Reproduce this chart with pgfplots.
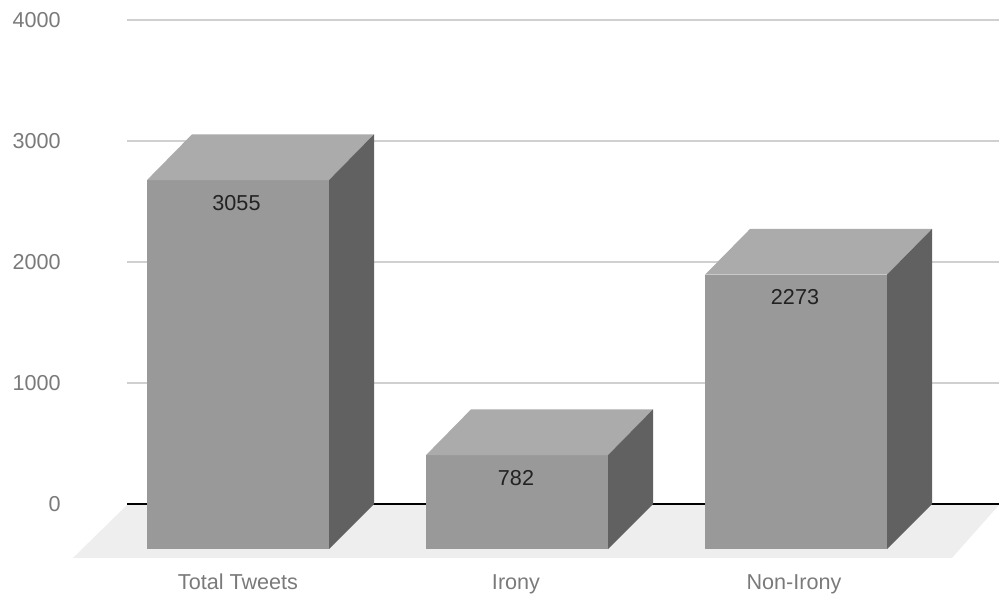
\documentclass[border=0pt]{standalone}
\usepackage{fontspec}
\setmainfont{Liberation Sans}
\usepackage{pgfplots}
\usepackage{pgfplotstable}
\pgfplotsset{compat=1.18}

\definecolor{frontface}{HTML}{999999}
\definecolor{topface}{HTML}{ABABAB}
\definecolor{sideface}{HTML}{616161}
\definecolor{floorgrey}{HTML}{EEEEEE}
\definecolor{gridgrey}{HTML}{D0D0D0}
\definecolor{ticktext}{HTML}{7A7A7A}
\definecolor{valuetext}{HTML}{222222}
\definecolor{baseline}{HTML}{444444}

% Outlines of the box faces: dx in x units, h as share of the value, off as fixed shift.
\pgfplotstableread[row sep=\\]{
dx h off\\
0 0 -372\\
182 0 -372\\
182 1 -378\\
0 1 -378\\
}\frontoutline
\pgfplotstableread[row sep=\\]{
dx h off\\
0 1 -378\\
182 1 -378\\
227 1 0\\
45 1 0\\
}\topoutline
\pgfplotstableread[row sep=\\]{
dx h off\\
182 0 -372\\
227 0 0\\
227 1 0\\
182 1 -378\\
}\sideoutline

\newcommand{\boxbar}[2]{%
  \addplot[fill=frontface,draw=none] table[x expr={#1+\thisrow{dx}},y expr={\thisrow{off}+\thisrow{h}*#2}] {\frontoutline} --cycle;
  \addplot[fill=topface,draw=none] table[x expr={#1+\thisrow{dx}},y expr={\thisrow{off}+\thisrow{h}*#2}] {\topoutline} --cycle;
  \addplot[fill=sideface,draw=none] table[x expr={#1+\thisrow{dx}},y expr={\thisrow{off}+\thisrow{h}*#2}] {\sideoutline} --cycle;
}

\begin{document}
\begin{tikzpicture}
\path[use as bounding box] (0,0) rectangle (749.25pt,446.25pt);
\begin{axis}[
  scale only axis,
  width=749.25pt,
  height=446.25pt,
  xmin=0,xmax=999,
  ymin=-752.07,ymax=4165.29,
  clip=false,
  axis line style={draw=none},
  tick style={draw=none},
  font=\fontsize{16.2pt}{19pt}\selectfont,
  ytick={0,1000,2000,3000,4000},
  xtick={238,516,794},
  xticklabels={Total Tweets,Irony,Non-Irony},
  /pgf/number format/assume math mode=true,
  /pgf/number format/1000 sep={},
  yticklabel style={anchor=east,xshift=45.75pt,inner sep=0pt,text=ticktext},
  xticklabel style={anchor=base,yshift=3.75pt,inner sep=0pt,text=ticktext},
  every axis plot/.append style={forget plot},
]
% Horizontal grid
\addplot[gridgrey,line width=0.9pt] coordinates {(127,1000) (999,1000)};
\addplot[gridgrey,line width=0.9pt] coordinates {(127,2000) (999,2000)};
\addplot[gridgrey,line width=0.9pt] coordinates {(127,3000) (999,3000)};
\addplot[gridgrey,line width=0.9pt] coordinates {(127,4000) (999,4000)};
% Floor and zero line
\addplot[fill=floorgrey,draw=none] coordinates {(127,-8) (999,-8) (952,-446) (73,-446)} --cycle;
\addplot[baseline,line width=0.9pt] coordinates {(127,0) (999,0)};
% Bars
\boxbar{147}{3055}
\boxbar{426}{782}
\boxbar{705}{2273}
% Value labels
\addplot[draw=none,mark=none,nodes near coords,point meta=explicit symbolic,
  every node near coord/.append style={anchor=center,inner sep=0pt,text=valuetext,font=\fontsize{16.2pt}{19pt}\selectfont}]
  table[meta=v,y expr={\thisrow{v}-566}] {
  x v
  236.5 3055
  516 782
  795 2273
};
\end{axis}
\end{tikzpicture}
\end{document}
